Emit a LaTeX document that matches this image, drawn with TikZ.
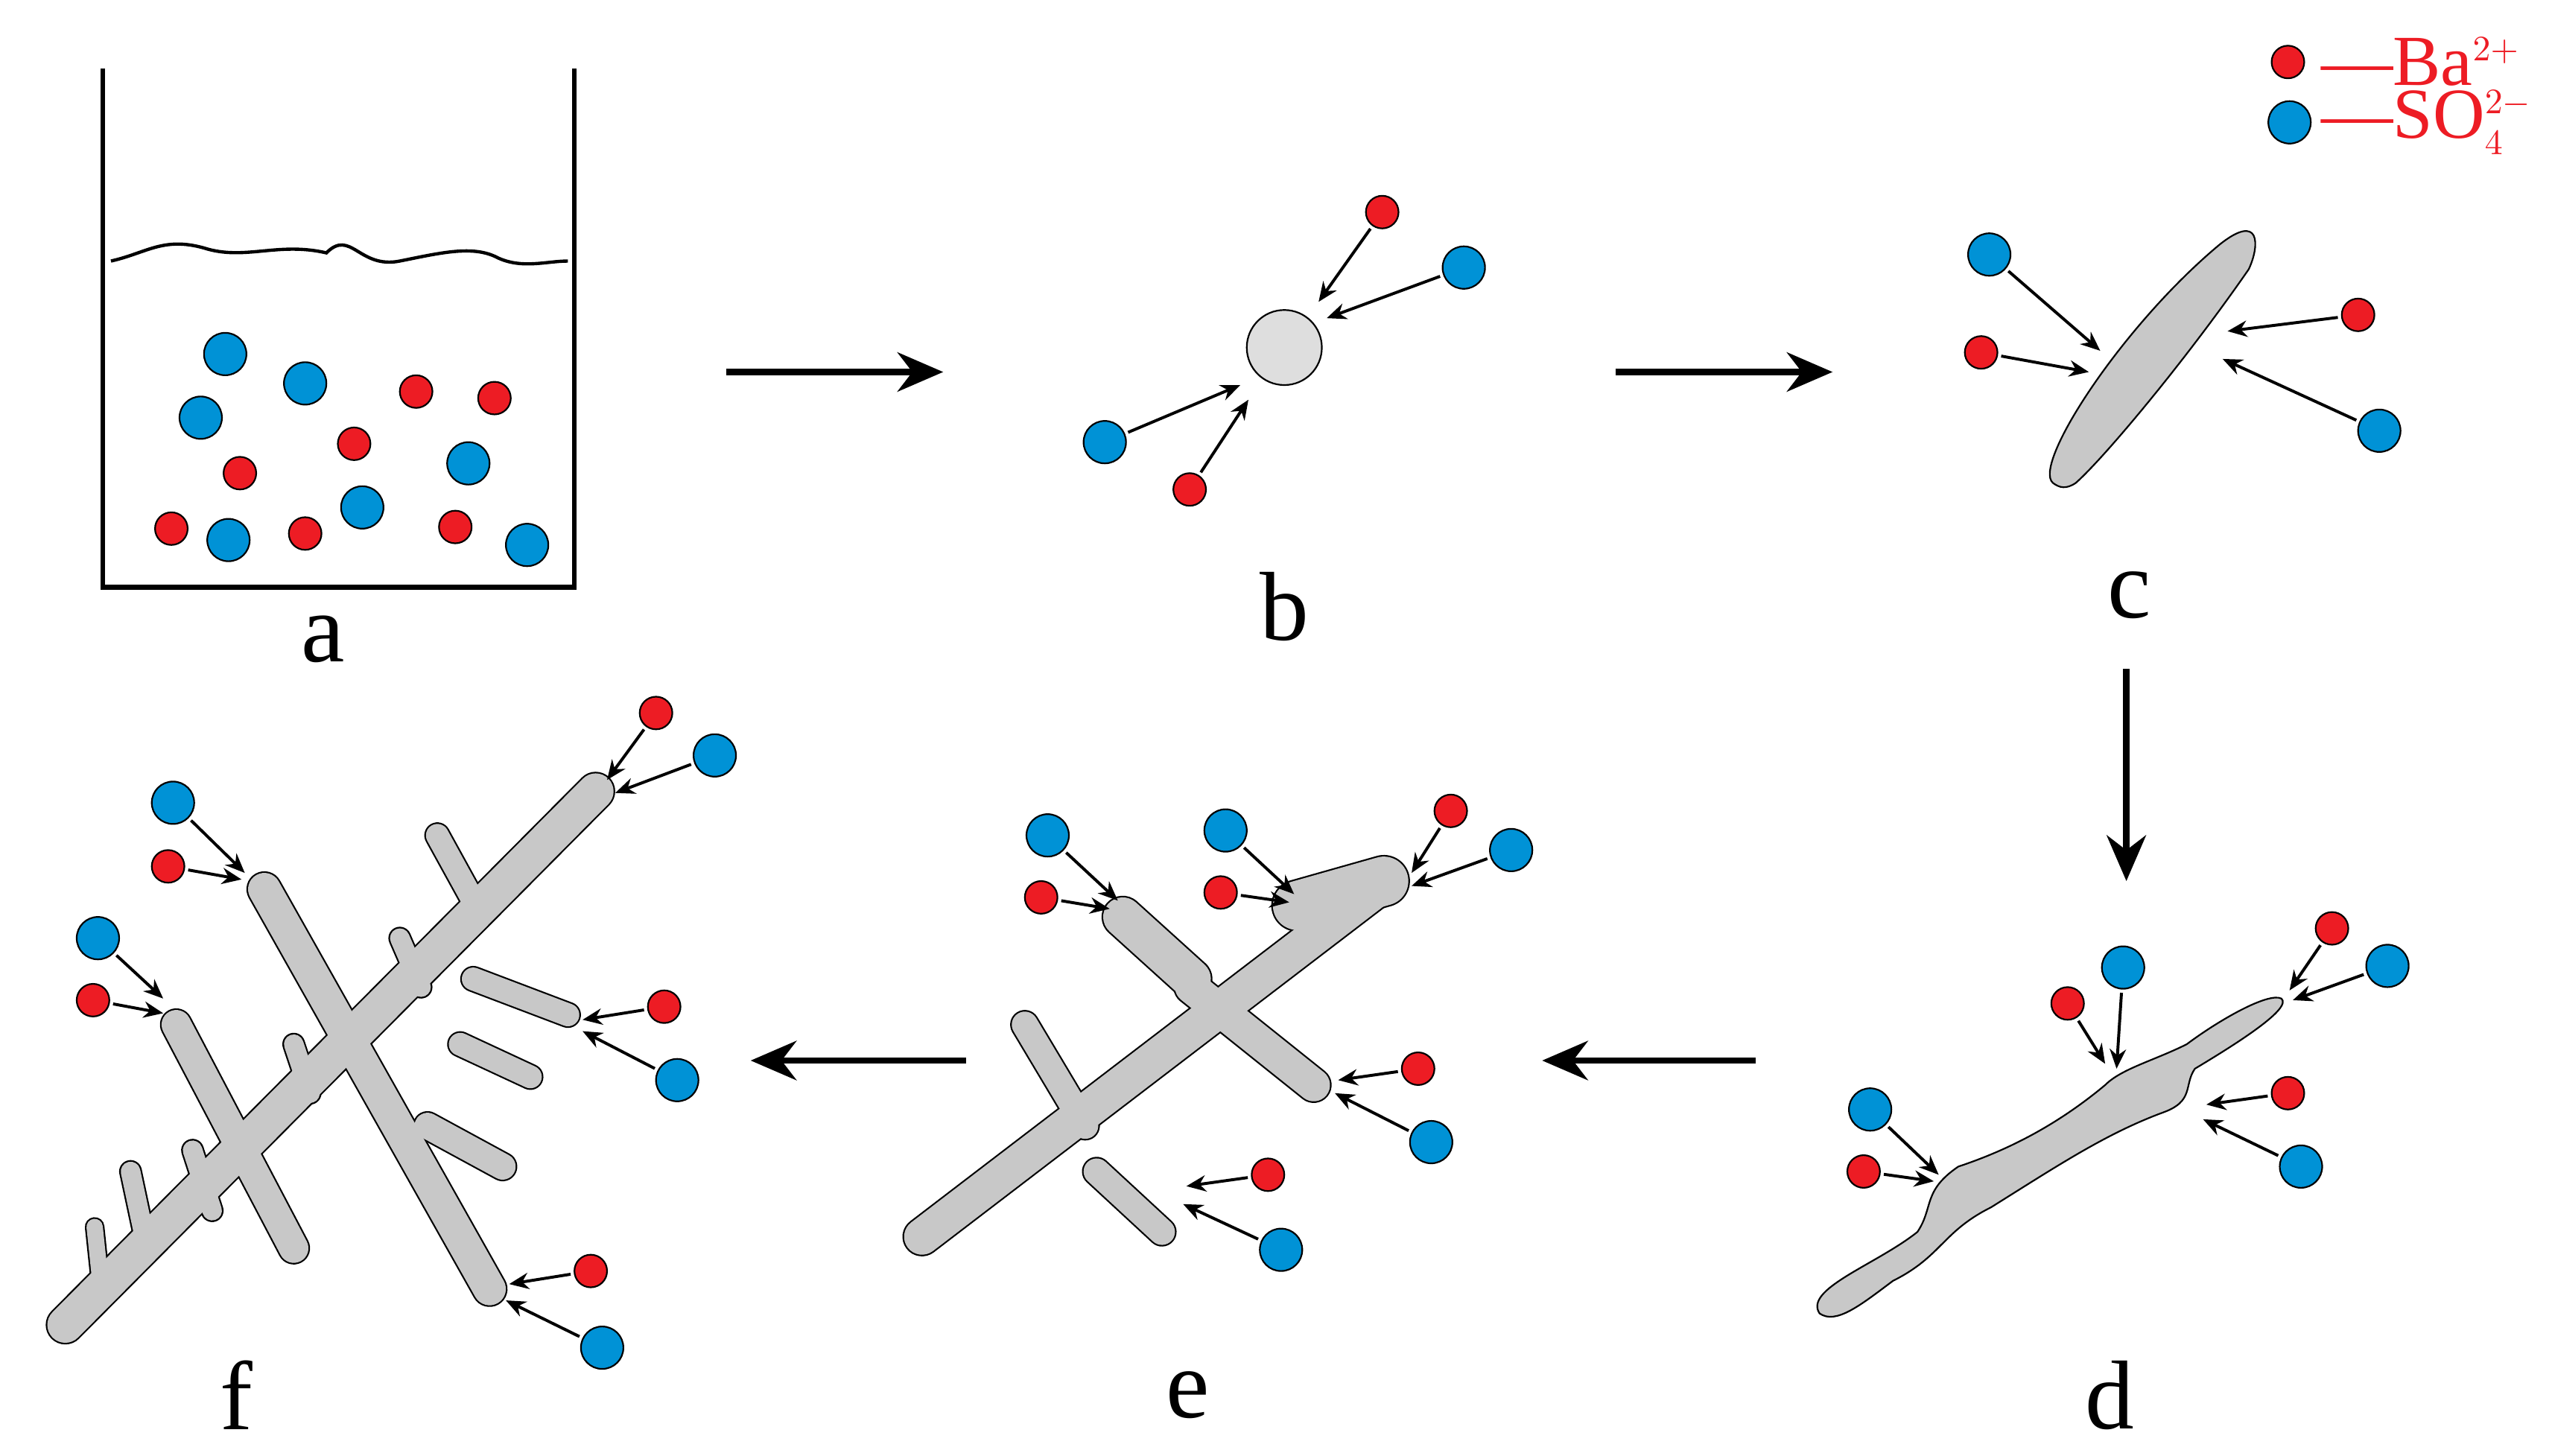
\documentclass[tikz,border=0pt]{standalone}
\usepackage{fontspec}
\setmainfont{Liberation Serif}
\usetikzlibrary{arrows.meta}
\definecolor{bared}{RGB}{237,28,36}
\definecolor{soblue}{RGB}{0,146,214}
\definecolor{xtal}{RGB}{200,200,200}
\tikzset{
  ba/.style={circle,draw=black,line width=0.5pt,fill=bared,minimum size=10pt,inner sep=0pt},
  so/.style={circle,draw=black,line width=0.5pt,fill=soblue,minimum size=13pt,inner sep=0pt},
  feed/.style={-{Stealth[length=6pt,width=5pt]},line width=0.9pt,shorten <=1pt},
  stage/.style={-{Stealth[length=14pt,width=12pt]},line width=2pt},
  lbl/.style={font=\fontsize{30}{30}\selectfont},
}
% branch outline: black underlay, grey on top
\newcommand{\xbranch}[3]{%
  \draw[line width=#3*0.5pt+1pt,line cap=round] #1 -- #2;}
\newcommand{\xfill}[3]{%
  \draw[xtal,line width=#3*0.5pt,line cap=round] #1 -- #2;}
% ion with feed arrow to a crystal point
\newcommand{\ionfeed}[4]{%
  \node[#2] (#1) at #3 {};
  \coordinate (#1t) at #4;
  \draw[feed] (#1) -- (#1t);}

\begin{document}
\begin{tikzpicture}[x=0.5pt,y=0.5pt,yscale=-1]
  \useasboundingbox (0,0) rectangle (1562,892);

  % beaker a
  \draw[line width=1.5pt] (63,42) -- (63,360) -- (352,360) -- (352,42);
  \draw[line width=1pt] (68,160) .. controls (90,155) and (100,145) .. (125,152) .. controls (150,160) and (170,148) .. (200,155) .. controls (215,140) and (220,165) .. (245,160) .. controls (270,155) and (290,150) .. (305,158) .. controls (320,165) and (335,160) .. (348,160);
  \foreach \p [count=\i] in {(138,217),(187,235),(123,256),(287,284),(222,311),(140,331),(323,334)}
    \node[so] (aso\i) at \p {};
  \foreach \p [count=\i] in {(255,240),(303,244),(217,272),(147,290),(105,324),(187,327),(279,323)}
    \node[ba] (aba\i) at \p {};
  \node[lbl] (la) at (198,392) {a};

  % process arrows
  \coordinate (s1a) at (445,228); \coordinate (s1b) at (578,228);
  \coordinate (s2a) at (990,228); \coordinate (s2b) at (1123,228);
  \coordinate (s3a) at (1303,410); \coordinate (s3b) at (1303,540);
  \coordinate (s4a) at (1076,650); \coordinate (s4b) at (945,650);
  \coordinate (s5a) at (592,650); \coordinate (s5b) at (460,650);
  \foreach \a/\b in {s1a/s1b,s2a/s2b,s3a/s3b,s4a/s4b,s5a/s5b}
    \draw[stage] (\a) -- (\b);

  % b nucleus
  \node[circle,draw,fill=xtal!60,minimum size=23pt,line width=0.5pt] (nuc) at (787,213) {};
  \ionfeed{b1}{ba}{(847,130)}{(808,185)}
  \ionfeed{b2}{so}{(897,164)}{(813,195)}
  \ionfeed{b3}{so}{(677,271)}{(760,236)}
  \ionfeed{b4}{ba}{(729,300)}{(765,245)}
  \node[lbl] (lb) at (787,372) {b};

  % c rod
  \draw[fill=xtal,line width=0.5pt] (1258,296) .. controls (1245,285) and (1300,200) .. (1360,150) .. controls (1385,130) and (1385,150) .. (1378,165) .. controls (1340,220) and (1290,280) .. (1272,296) .. controls (1266,300) and (1262,299) .. (1258,296) -- cycle;
  \ionfeed{c1}{so}{(1219,156)}{(1287,215)}
  \ionfeed{c2}{ba}{(1214,216)}{(1280,228)}
  \ionfeed{c3}{ba}{(1445,193)}{(1365,203)}
  \ionfeed{c4}{so}{(1458,264)}{(1362,220)}
  \node[lbl] (lc) at (1305,365) {c};

  % d elongated crystal
  \draw[fill=xtal,line width=0.5pt] (1115,805) .. controls (1105,790) and (1150,775) .. (1175,755) .. controls (1185,740) and (1178,730) .. (1200,715) .. controls (1230,705) and (1260,690) .. (1290,665) .. controls (1300,655) and (1320,650) .. (1340,640) .. controls (1360,625) and (1390,608) .. (1398,612) .. controls (1405,618) and (1370,640) .. (1345,655) .. controls (1338,665) and (1345,675) .. (1325,682) .. controls (1290,695) and (1260,715) .. (1220,740) .. controls (1190,755) and (1190,770) .. (1160,785) .. controls (1140,800) and (1125,812) .. (1115,805) -- cycle;
  \ionfeed{d1}{so}{(1146,680)}{(1188,720)}
  \ionfeed{d2}{ba}{(1142,718)}{(1185,724)}
  \ionfeed{d3}{ba}{(1267,615)}{(1290,652)}
  \ionfeed{d4}{so}{(1301,593)}{(1297,655)}
  \ionfeed{d5}{ba}{(1429,569)}{(1403,607)}
  \ionfeed{d6}{so}{(1463,592)}{(1405,613)}
  \ionfeed{d7}{ba}{(1402,670)}{(1352,677)}
  \ionfeed{d8}{so}{(1410,715)}{(1350,686)}
  \node[lbl] (ld) at (1293,855) {d};

  % e branched crystal
  \foreach \fn in {\xbranch,\xfill}{
    \fn{(565,758)}{(850,540)}{22}
    \fn{(795,555)}{(848,540)}{30}
    \fn{(688,562)}{(730,600)}{24}
    \fn{(730,605)}{(805,665)}{20}
    \fn{(628,628)}{(665,690)}{16}
    \fn{(672,718)}{(712,755)}{16}
  }
  \ionfeed{e1}{so}{(642,512)}{(685,552)}
  \ionfeed{e2}{ba}{(638,550)}{(680,557)}
  \ionfeed{e3}{so}{(751,509)}{(793,548)}
  \ionfeed{e4}{ba}{(748,547)}{(790,553)}
  \ionfeed{e5}{ba}{(889,497)}{(865,535)}
  \ionfeed{e6}{so}{(926,521)}{(865,543)}
  \ionfeed{e7}{ba}{(869,655)}{(820,662)}
  \ionfeed{e8}{so}{(877,700)}{(818,670)}
  \ionfeed{e9}{ba}{(777,720)}{(727,727)}
  \ionfeed{e10}{so}{(785,766)}{(725,738)}
  \node[lbl] (le) at (728,855) {e};

  % f dendrite
  \foreach \fn in {\xbranch,\xfill}{
    \fn{(40,812)}{(365,485)}{22}
    \fn{(162,545)}{(300,790)}{20}
    \fn{(108,628)}{(180,765)}{18}
    \fn{(268,512)}{(290,552)}{14}
    \fn{(290,600)}{(348,622)}{14}
    \fn{(282,640)}{(325,660)}{14}
    \fn{(262,690)}{(308,715)}{16}
    \fn{(245,575)}{(258,605)}{12}
    \fn{(180,640)}{(190,670)}{12}
    \fn{(118,705)}{(130,742)}{12}
    \fn{(80,718)}{(90,765)}{12}
    \fn{(58,752)}{(62,790)}{10}
  }
  \ionfeed{f1}{ba}{(402,437)}{(372,478)}
  \ionfeed{f2}{so}{(438,463)}{(377,486)}
  \ionfeed{f3}{so}{(106,492)}{(150,535)}
  \ionfeed{f4}{ba}{(103,531)}{(148,539)}
  \ionfeed{f5}{so}{(60,575)}{(100,612)}
  \ionfeed{f6}{ba}{(57,613)}{(100,621)}
  \ionfeed{f7}{ba}{(407,617)}{(357,625)}
  \ionfeed{f8}{so}{(415,662)}{(357,632)}
  \ionfeed{f9}{ba}{(362,779)}{(312,787)}
  \ionfeed{f10}{so}{(369,826)}{(310,797)}
  \node[lbl] (lf) at (145,855) {f};

  % legend
  \node[ba] (kba) at (1402,38) {};
  \node[so] (kso) at (1403,75) {};
  \node[anchor=west,text=bared,font=\fontsize{22}{22}\selectfont,inner sep=0pt] (tba) at (1422,38) {\textemdash Ba$^{\scriptscriptstyle 2+}$};
  \node[anchor=west,text=bared,font=\fontsize{22}{22}\selectfont,inner sep=0pt] (tso) at (1422,75) {\textemdash SO$_{\scriptscriptstyle 4}^{\scriptscriptstyle 2-}$};
\end{tikzpicture}
\end{document}
